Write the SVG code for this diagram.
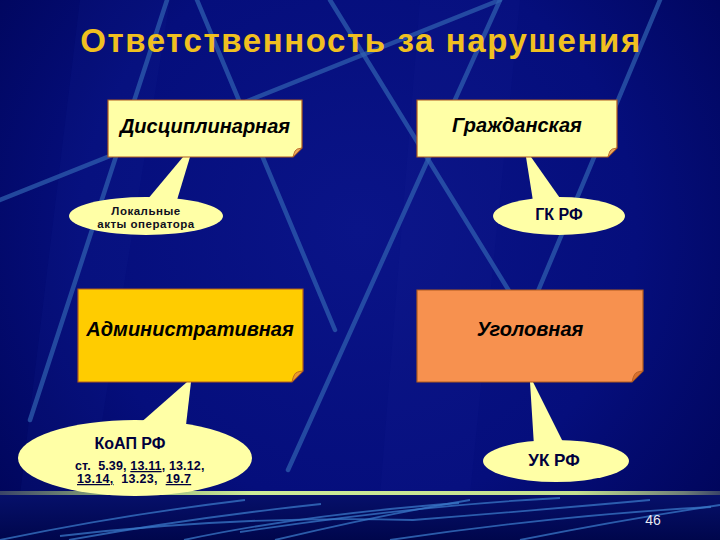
<svg xmlns="http://www.w3.org/2000/svg" width="720" height="540" viewBox="0 0 720 540">
  <defs>
    <radialGradient id="bgGrad" cx="360" cy="230" r="460" gradientUnits="userSpaceOnUse">
      <stop offset="0" stop-color="#0A1488"/>
      <stop offset="0.6" stop-color="#050E7C"/>
      <stop offset="1" stop-color="#00055A"/>
    </radialGradient>
    <linearGradient id="lineGrad" x1="0" y1="0" x2="720" y2="0" gradientUnits="userSpaceOnUse">
      <stop offset="0" stop-color="#3A4468"/>
      <stop offset="0.15" stop-color="#8CA878"/>
      <stop offset="0.35" stop-color="#CDEB98"/>
      <stop offset="0.8" stop-color="#C4E090"/>
      <stop offset="0.95" stop-color="#6E7E78"/>
      <stop offset="1" stop-color="#3A4468"/>
    </linearGradient>
    <linearGradient id="bottomGrad" x1="0" y1="495" x2="0" y2="540" gradientUnits="userSpaceOnUse">
      <stop offset="0" stop-color="#06106A"/>
      <stop offset="1" stop-color="#00064C"/>
    </linearGradient>
  </defs>
  <style>
    .streak { stroke: #3162B0; stroke-width: 4.5; stroke-linecap: round; fill: none; opacity: 0.7; }
    .bstreak { stroke: #3A78C8; stroke-width: 1.8; fill: none; opacity: 0.75; }
    .title { font-family: "Liberation Sans", Arial, sans-serif; font-weight: bold; font-size: 33px; letter-spacing: 1.6px; fill: #F0C020; }
    .box { stroke: #B05A1E; stroke-width: 1.2; }
    .flap { stroke: #B05A1E; stroke-width: 0.8; }
    .blabel { font-family: "Liberation Sans", Arial, sans-serif; font-weight: bold; font-style: italic; font-size: 20px; fill: #000000; text-anchor: middle; }
    .callout { fill: #FFFFA6; stroke: none; }
    .ctext { font-family: "Liberation Sans", Arial, sans-serif; font-weight: bold; fill: #00003C; text-anchor: middle; }
    .small { font-family: "Liberation Sans", Arial, sans-serif; font-weight: bold; font-size: 11.5px; letter-spacing: 0.5px; fill: #101020; text-anchor: middle; }
    .ref { font-family: "Liberation Sans", Arial, sans-serif; font-weight: bold; font-size: 12.5px; fill: #00003C; }
    .page { font-family: "Liberation Sans", Arial, sans-serif; font-size: 14px; fill: #E6E8F2; text-anchor: middle; }
  </style>

  <g id="background">
    <rect x="0" y="0" width="720" height="495" fill="url(#bgGrad)"/>
    <polygon points="80,0 170,0 90,495 20,495" fill="#1A2CA0" opacity="0.12"/>
    <polygon points="420,0 520,0 470,495 380,495" fill="#1A2CA0" opacity="0.1"/>
    <line class="streak" x1="167" y1="0" x2="30" y2="420"/>
    <line class="streak" x1="197" y1="0" x2="335" y2="330"/>
    <line class="streak" x1="0" y1="200" x2="500" y2="0"/>
    <line class="streak" x1="500" y1="0" x2="288" y2="470"/>
    <line class="streak" x1="330" y1="0" x2="522" y2="312"/>
    <line class="streak" x1="660" y1="0" x2="528" y2="315"/>
    <rect x="0" y="495" width="720" height="45" fill="url(#bottomGrad)"/>
    <path class="bstreak" d="M0,540 Q120,515 245,500"/>
    <path class="bstreak" d="M69,540 Q190,518 321,504"/>
    <path class="bstreak" d="M184,540 Q300,515 459,503"/>
    <path class="bstreak" d="M275,540 Q380,515 470,500"/>
    <path class="bstreak" d="M390,540 Q560,515 711,507"/>
    <path class="bstreak" d="M60,536 Q240,515 413,520 Q540,510 650,500"/>
    <path class="bstreak" d="M520,540 Q620,520 720,505"/>
    <path class="bstreak" d="M240,532 Q420,505 560,498"/>
    <rect x="0" y="491" width="720" height="4" fill="url(#lineGrad)"/>
  </g>

  <g id="title">
    <text class="title" x="361" y="52" text-anchor="middle">Ответственность за нарушения</text>
  </g>

  <g id="connectors">
    <polygon class="callout" points="183,157 190,157 177,200 147,200"/>
    <polygon class="callout" points="526,157 531,157 562,201 533,201"/>
    <polygon class="callout" points="187,382 191,382 186,425 138,425"/>
    <polygon class="callout" points="530,382 533,382 565,446 534,446"/>
  </g>

  <g id="node-disciplinary">
    <path class="box" d="M108,100 H302 V148 L293,157 H108 Z" fill="#FFFFA6"/>
    <path class="flap" d="M293,157 L302,148 Q296,148.5 295,151 Q294,153 293,157 Z" fill="#E8A860"/>
    <text class="blabel" x="205" y="133">Дисциплинарная</text>
  </g>

  <g id="node-civil">
    <path class="box" d="M417,100 H617 V148 L608,157 H417 Z" fill="#FFFFA6"/>
    <path class="flap" d="M608,157 L617,148 Q611,148.5 610,151 Q609,153 608,157 Z" fill="#E8A860"/>
    <text class="blabel" x="517" y="132">Гражданская</text>
  </g>

  <g id="node-administrative">
    <path class="box" d="M78,289 H303 V371 L292,382 H78 Z" fill="#FFCC00"/>
    <path class="flap" d="M292,382 L303,371 Q296,371.5 294.5,374.5 Q293,377 292,382 Z" fill="#E89A30"/>
    <text class="blabel" x="190" y="336">Административная</text>
  </g>

  <g id="node-criminal">
    <path class="box" d="M417,290 H643 V371 L632,382 H417 Z" fill="#F7914F"/>
    <path class="flap" d="M632,382 L643,371 Q636,371.5 634.5,374.5 Q633,377 632,382 Z" fill="#D8702E"/>
    <text class="blabel" x="530" y="336">Уголовная</text>
  </g>

  <g id="callout-local">
    <ellipse class="callout" cx="146" cy="216" rx="77" ry="19"/>
    <text class="small" x="146" y="215">Локальные</text>
    <text class="small" x="146" y="228">акты оператора</text>
  </g>

  <g id="callout-gk">
    <ellipse class="callout" cx="559" cy="216" rx="66" ry="19"/>
    <text class="ctext" x="559" y="220" font-size="16">ГК РФ</text>
  </g>

  <g id="callout-koap">
    <ellipse class="callout" cx="135" cy="458" rx="117" ry="38"/>
    <text class="ctext" x="130" y="449" font-size="16">КоАП РФ</text>
    <text class="ref" x="75" y="470" letter-spacing="0.15" xml:space="preserve">ст.  5.39, <tspan text-decoration="underline">13.11</tspan>, 13.12,</text>
    <text class="ref" x="77" y="483" letter-spacing="0.3" word-spacing="4"><tspan text-decoration="underline">13.14,</tspan> 13.23, <tspan text-decoration="underline">19.7</tspan></text>
  </g>

  <g id="callout-uk">
    <ellipse class="callout" cx="556" cy="461" rx="73" ry="21"/>
    <text class="ctext" x="554" y="466" font-size="17">УК РФ</text>
  </g>

  <g id="page-number">
    <text class="page" x="653" y="525">46</text>
  </g>
</svg>
